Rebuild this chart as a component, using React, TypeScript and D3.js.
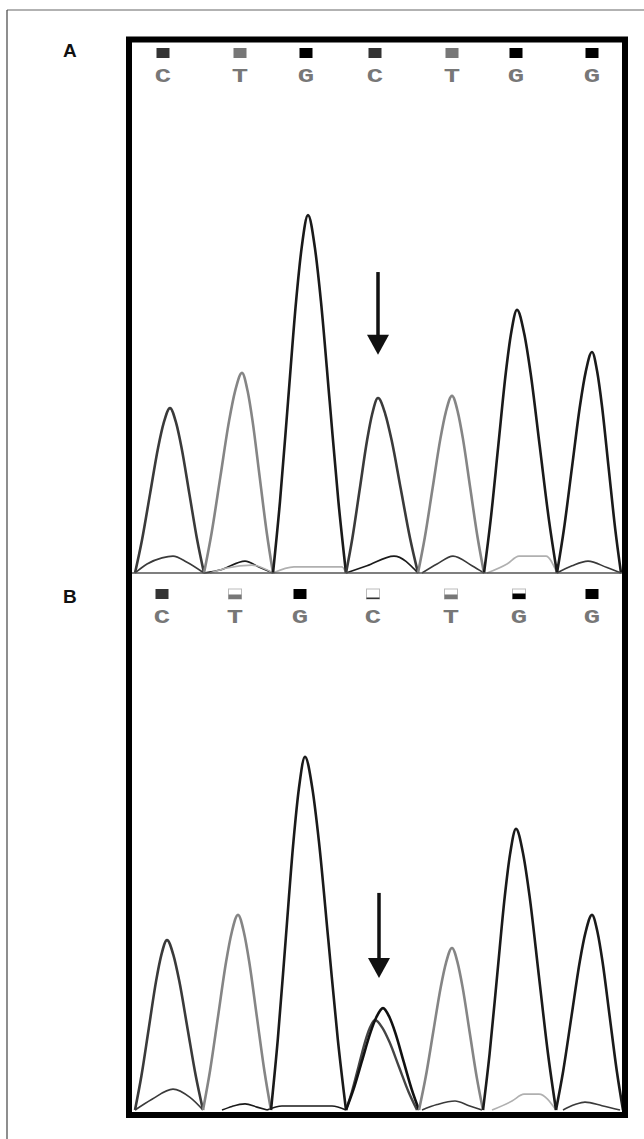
import React from 'react';
import * as d3 from 'd3';

// base calls shared by both traces
const BASES = ['C', 'T', 'G', 'C', 'T', 'G', 'G'];

// panel A (reference) : scan positions and signal
const A_CALL_SCAN = [31, 108, 174, 243, 320, 384, 460];
const A_PEAK_SCAN = [38, 110, 176, 246, 320, 385, 460];
const A_PEAK_SIGNAL = [458, 556, 994, 486, 492, 731, 614];
const A_VALLEY_SCAN = [3, 72, 141, 214, 286, 352, 425, 489];
const A_QUALITY = [1, 1, 1, 1, 1, 1, 1];

// panel B (patient)
const B_CALL_SCAN = [30, 103, 168, 241, 319, 387, 460];
const B_PEAK_SCAN = [35, 106, 173, 251, 320, 384, 460];
const B_PEAK_SIGNAL = [472, 542, 981, 283, 450, 781, 542];
const B_VALLEY_SCAN = [3, 71, 139, 214, 287, 351, 424, 491];
const B_QUALITY = [1, 0.45, 1, 0.15, 0.45, 0.55, 1];
// overlapping second peak under the arrow
const B_MINOR_BASE = ['T'];
const B_MINOR_SCAN = [243];
const B_MINOR_SIGNAL = [250];
const B_MINOR_VALLEYS = [[214, 285]];

// normalised peak flank (offset toward valley, signal fraction), read from the tall G peak
const PEAK_PROFILE: [number, number][] = [[1, 0], [0.8, 0.2], [0.57, 0.48], [0.34, 0.76], [0.18, 0.91], [0, 1]];

// low background signal near the baseline
const A_NOISE: { base: string; pts: [number, number][] }[] = [
  { base: 'C', pts: [[3, 0], [15, 25], [30, 42], [41, 47], [55, 30], [72, 0]] },
  { base: 'G', pts: [[72, 0], [90, 10], [113, 33], [128, 15], [141, 0]] },
  { base: 'A', pts: [[78, 0], [95, 14], [120, 22], [141, 0]] },
  { base: 'A', pts: [[141, 0], [162, 17], [210, 17], [214, 0]] },
  { base: 'G', pts: [[214, 0], [235, 20], [262, 47], [286, 0]] },
  { base: 'C', pts: [[290, 0], [305, 25], [321, 47], [340, 20], [352, 0]] },
  { base: 'A', pts: [[355, 0], [375, 25], [387, 47], [414, 47], [425, 0]] },
  { base: 'C', pts: [[425, 0], [440, 20], [456, 33], [475, 15], [489, 0]] },
];
const B_NOISE: { base: string; pts: [number, number][] }[] = [
  { base: 'C', pts: [[3, 0], [20, 30], [41, 58], [58, 35], [71, 0]] },
  { base: 'G', pts: [[90, 0], [100, 10], [113, 17], [125, 8], [135, 0]] },
  { base: 'G', pts: [[135, 0], [150, 11], [200, 11], [214, 0]] },
  { base: 'C', pts: [[290, 0], [305, 15], [323, 25], [337, 12], [350, 0]] },
  { base: 'A', pts: [[360, 0], [380, 25], [392, 44], [407, 44], [424, 0]] },
  { base: 'C', pts: [[431, 0], [443, 15], [453, 22], [470, 12], [488, 0]] },
];

// arrows (scan, signal top, signal tip)
const A_ARROW = [246, 836, 606];
const B_ARROW = [247, 603, 367];

const TRACE_COLOR: Record<string, string> = { C: '#3a3a3a', T: '#858585', G: '#1a1a1a', A: '#b0b0b0' };
const MARK_COLOR: Record<string, string> = { C: '#333', T: '#777', G: '#000' };

const W = 644;
const H = 1139;

const x = d3.scaleLinear().domain([0, 490]).range([132, 622]);
const yA = d3.scaleLinear().domain([0, 1000]).range([573, 213]);
const yB = d3.scaleLinear().domain([0, 1000]).range([1110, 750]);

function peakPoints(apex: number, signal: number, left: number, right: number): [number, number][] {
  const l = PEAK_PROFILE.map(([o, f]) => [apex - o * (apex - left), f * signal] as [number, number]);
  const r = PEAK_PROFILE.slice(0, -1).reverse().map(([o, f]) => [apex + o * (right - apex), f * signal] as [number, number]);
  return [...l, ...r];
}

interface PanelProps {
  label: string;
  y: d3.ScaleLinear<number, number>;
  labelY: number;
  markTop: number;
  letterY: number;
  calls: number[];
  peaks: number[];
  signal: number[];
  valleys: number[];
  quality: number[];
  noise: { base: string; pts: [number, number][] }[];
  arrow: number[];
  minor?: boolean;
}

const Panel: React.FC<PanelProps> = (p) => {
  const line = d3.line<[number, number]>()
    .x(d => x(d[0]))
    .y(d => p.y(d[1]))
    .curve(d3.curveMonotoneX);

  const ax = x(p.arrow[0]);
  const aTop = p.y(p.arrow[1]);
  const aTip = p.y(p.arrow[2]);

  return (
    <g>
      <text x={63} y={p.labelY} fontFamily="Liberation Sans, Arial, sans-serif" fontWeight="bold" fontSize={19} fill="#111">{p.label}</text>
      {BASES.map((b, i) => {
        const cx = x(p.calls[i]);
        const q = p.quality[i];
        const mh = 10;
        return (
          <g key={'m' + i}>
            {q < 1 && <rect x={cx - 6.5} y={p.markTop} width={13} height={mh} fill="#fff" stroke="#bbb" strokeWidth={1} />}
            <rect x={cx - 6.5} y={p.markTop + mh * (1 - q)} width={13} height={mh * q} fill={MARK_COLOR[b]} />
            <g transform={`translate(${cx},${p.letterY}) scale(1.3,1)`}>
              <text textAnchor="middle" fontFamily="Liberation Mono, Courier New, monospace" fontWeight="bold" fontSize={21} fill="#777">{b}</text>
            </g>
          </g>
        );
      })}
      {p.noise.map((n, i) => (
        <path key={'n' + i} d={line(n.pts) ?? ''} fill="none" stroke={TRACE_COLOR[n.base]} strokeWidth={1.6} />
      ))}
      {p.minor && B_MINOR_SCAN.map((s, i) => (
        <path key={'mi' + i}
          d={line(peakPoints(s, B_MINOR_SIGNAL[i], B_MINOR_VALLEYS[i][0], B_MINOR_VALLEYS[i][1])) ?? ''}
          fill="none" stroke="#444" strokeWidth={2.4} data-base={B_MINOR_BASE[i]} />
      ))}
      {BASES.map((b, i) => (
        <path key={'p' + i}
          d={line(peakPoints(p.peaks[i], p.signal[i], p.valleys[i], p.valleys[i + 1])) ?? ''}
          fill="none" stroke={p.minor && i === 3 ? '#111' : TRACE_COLOR[b]} strokeWidth={2.6} strokeLinejoin="round" />
      ))}
      <line x1={ax} x2={ax} y1={aTop} y2={aTip - 14} stroke="#111" strokeWidth={3.5} />
      <path d={`M${ax - 11},${aTip - 20} L${ax + 11},${aTip - 20} L${ax},${aTip} Z`} fill="#111" />
    </g>
  );
};

const App: React.FC = () => (
  <svg width={W} height={H} style={{ position: 'absolute', left: 0, top: 0, background: '#fff' }}>
    <rect x={0} y={0} width={W} height={H} fill="#fff" />
    <line x1={7} x2={W} y1={10} y2={10} stroke="#666" strokeWidth={1.2} />
    <line x1={7} x2={7} y1={10} y2={H} stroke="#444" strokeWidth={1.2} />

    <Panel label="A" y={yA} labelY={57} markTop={48} letterY={82}
      calls={A_CALL_SCAN} peaks={A_PEAK_SCAN} signal={A_PEAK_SIGNAL} valleys={A_VALLEY_SCAN}
      quality={A_QUALITY} noise={A_NOISE} arrow={A_ARROW} />
    <Panel label="B" y={yB} labelY={603} markTop={589} letterY={623}
      calls={B_CALL_SCAN} peaks={B_PEAK_SCAN} signal={B_PEAK_SIGNAL} valleys={B_VALLEY_SCAN}
      quality={B_QUALITY} noise={B_NOISE} arrow={B_ARROW} minor />

    {/* baseline of A doubles as the divider */}
    <line x1={132} x2={622} y1={yA(0)} y2={yA(0)} stroke="#555" strokeWidth={1.3} />
    <rect x={129} y={39.5} width={496} height={1075.5} fill="none" stroke="#000" strokeWidth={6} />
  </svg>
);

export default App;
